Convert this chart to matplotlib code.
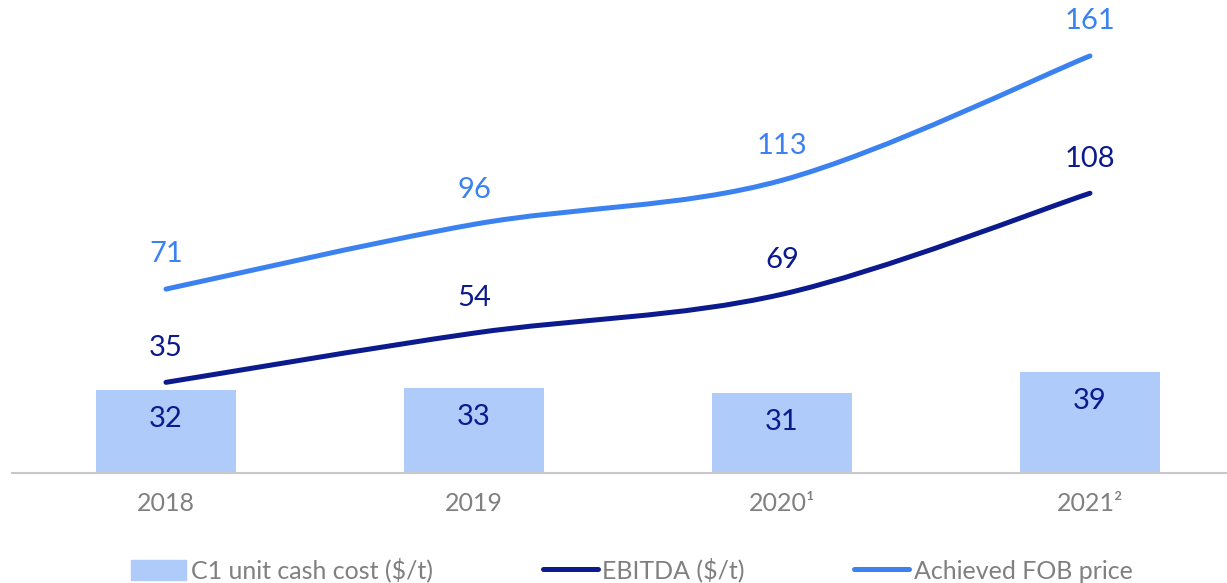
import matplotlib
matplotlib.use("Agg")
import matplotlib.pyplot as plt
from matplotlib.path import Path
from matplotlib.patches import PathPatch
from matplotlib.lines import Line2D
from matplotlib.patches import Patch
import numpy as np

years = ['2018', '2019', '2020¹', '2021²']
c1_cost = [32, 33, 31, 39]
ebitda = [35, 54, 69, 108]
fob_price = [71, 96, 113, 161]

bar_color = '#aecbfa'
navy = '#0b1a8c'
blue = '#3b82f0'
grey = '#808080'

plt.rcParams['font.family'] = ['Lato', 'DejaVu Sans']


def smooth_path(xs, ys):
    # catmull-rom style bezier through the data points
    pts = np.column_stack([xs, ys]).astype(float)
    n = len(pts)
    verts = [pts[0]]
    codes = [Path.MOVETO]
    for i in range(n - 1):
        p0 = pts[i - 1] if i > 0 else pts[i]
        p1 = pts[i]
        p2 = pts[i + 1]
        p3 = pts[i + 2] if i + 2 < n else pts[i + 1]
        c1 = p1 + (p2 - p0) / 6
        c2 = p2 - (p3 - p1) / 6
        verts += [c1, c2, p2]
        codes += [Path.CURVE4] * 3
    return Path(verts, codes)


fig = plt.figure(figsize=(12.27, 5.83), dpi=100)
ax = fig.add_axes([12 / 1227, 110 / 583, 1 - 12 / 1227, 473 / 583])

x = np.arange(len(years))
ax.bar(x, c1_cost, width=0.455, color=bar_color, zorder=1)

for vals, col in [(ebitda, navy), (fob_price, blue)]:
    patch = PathPatch(smooth_path(x, vals), facecolor='none', edgecolor=col,
                      lw=3.6, capstyle='round', zorder=3)
    ax.add_patch(patch)
    for xi, v in zip(x, vals):
        ax.annotate(str(v), (xi, v), xytext=(0, 25), textcoords='offset points',
                    ha='center', va='center', fontsize=21, color=col)

for xi, v in zip(x, c1_cost):
    ax.annotate(str(v), (xi, v), xytext=(0, -21), textcoords='offset points',
                ha='center', va='center', fontsize=21, color=navy)

ax.set_xlim(-0.5, 3.445)
ax.set_ylim(0, 182.6)
ax.set_xticks(x)
ax.set_xticklabels(years)
ax.tick_params(axis='x', length=0, pad=14, labelsize=18, labelcolor=grey)
ax.set_yticks([])
for s in ['top', 'right', 'left']:
    ax.spines[s].set_visible(False)
ax.spines['bottom'].set_color('#c8c8c8')
ax.spines['bottom'].set_linewidth(1.5)

handles = [Patch(color=bar_color),
           Line2D([], [], color=navy, lw=3.6, solid_capstyle='round'),
           Line2D([], [], color=blue, lw=3.6, solid_capstyle='round')]
labels = ['C1 unit cash cost ($/t)', 'EBITDA ($/t)', 'Achieved FOB price']
fig.legend(handles, labels, loc='center', bbox_to_anchor=(0.515, 0.022), ncol=3,
           frameon=False, fontsize=18, labelcolor=grey, handlelength=2.2,
           handleheight=0.9, handletextpad=0.17, columnspacing=4.4)

fig.savefig('out.png', dpi=100)
